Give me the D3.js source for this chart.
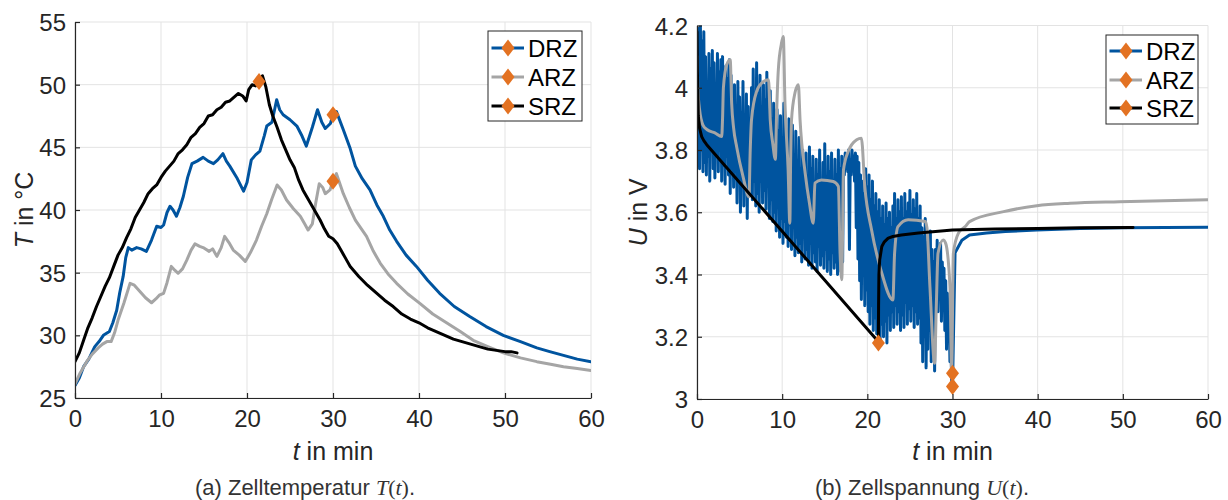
<!DOCTYPE html>
<html>
<head>
<meta charset="utf-8">
<script src="https://cdn.jsdelivr.net/npm/d3@7"></script>
<style>
  html, body { margin: 0; padding: 0; background: #fff; }
  svg { display: block; }
  text { font-family: "Liberation Sans", Arial, Helvetica, sans-serif; }
</style>
</head>
<body>
<svg id="fig" width="1228" height="500"></svg>
<script>
// ---- data -------------------------------------------------------------
const seriesNames = ["DRZ", "ARZ", "SRZ"];
const timeTicks = [0, 10, 20, 30, 40, 50, 60];
const tempTicks = [25, 30, 35, 40, 45, 50, 55];
const voltTicks = [3, 3.2, 3.4, 3.6, 3.8, 4, 4.2];

// cell temperature T(t) in °C over t in min
const tempDRZ = [
  [0,26.0],[0.5,26.6],[1.0,27.5],[1.6,28.1],[2.3,29.1],[2.8,29.5],[3.3,30.0],[4.0,30.3],
  [4.4,31.0],[4.85,32.0],[5.2,33.4],[5.6,34.7],[5.9,36.2],[6.2,37.0],[6.6,36.8],[7.17,37.0],
  [7.7,36.9],[8.3,36.7],[8.9,37.6],[9.5,38.7],[10.0,38.6],[10.3,38.8],[10.7,39.8],[11.05,40.3],
  [11.4,40.0],[11.8,39.5],[12.2,40.2],[12.6,41.1],[13.1,42.6],[13.6,43.7],[14.2,43.9],[14.9,44.2],
  [15.5,43.9],[16.1,43.7],[16.6,44.0],[17.2,44.5],[17.6,43.9],[18.0,43.5],[18.8,42.6],[19.6,41.5],
  [20.0,42.2],[20.5,44.0],[21.0,44.4],[21.5,44.7],[22.0,45.9],[22.3,46.7],[22.9,47.0],[23.45,48.8],
  [23.8,48.0],[24.2,47.6],[25.0,47.2],[25.8,46.7],[26.4,45.9],[26.9,45.1],[27.6,46.6],[28.2,48.0],
  [28.7,47.0],[29.1,46.5],[29.7,46.9],[30.0,47.6],[30.4,47.85],[31.2,46.4],[32.0,44.9],[32.6,43.5],
  [33.4,42.5],[34.3,41.6],[35.1,40.4],[35.85,39.5],[36.6,38.4],[37.4,37.5],[38.5,36.4],[39.7,35.5],
  [41.0,34.4],[42.4,33.35],[44.1,32.3],[45.9,31.5],[47.8,30.7],[49.8,30.0],[51.8,29.5],[53.7,29.0],
  [55.2,28.7],[56.8,28.4],[58.4,28.1],[60,27.9]
];
const tempARZ = [
  [0,26.1],[0.6,27.0],[1.36,27.9],[2.0,28.5],[2.7,29.0],[3.2,29.3],[3.7,29.5],[4.2,29.5],
  [4.6,30.2],[5.0,31.2],[5.7,32.6],[6.4,34.15],[6.9,34.0],[7.55,33.5],[8.2,33.0],[8.9,32.6],
  [9.4,32.9],[9.8,33.2],[10.3,33.35],[10.7,34.2],[11.2,35.5],[11.6,35.2],[12.0,34.95],[12.5,35.3],
  [13.0,36.0],[13.5,36.8],[13.95,37.3],[14.5,37.1],[14.9,37.0],[15.6,36.7],[16.0,36.9],[16.5,36.3],
  [17.0,37.0],[17.4,37.9],[17.9,37.4],[18.4,36.8],[19.1,36.4],[19.8,35.9],[20.4,36.6],[21.1,37.6],
  [21.7,38.7],[22.3,39.7],[22.9,40.9],[23.5,42.0],[24.0,41.6],[24.6,40.8],[25.4,40.1],[26.2,39.5],
  [26.7,38.9],[27.1,38.4],[27.6,38.9],[28.0,40.6],[28.4,42.1],[28.8,41.8],[29.1,41.3],[29.65,41.6],
  [30.0,42.3],[30.4,42.9],[31.2,41.3],[31.9,40.2],[32.6,39.2],[33.9,37.9],[34.7,36.7],[35.5,35.75],
  [36.4,34.9],[37.4,34.15],[38.7,33.3],[40.1,32.55],[41.6,31.7],[43.2,31.0],[44.8,30.3],[46.3,29.6],
  [48.0,29.1],[49.8,28.6],[51.8,28.2],[53.7,27.9],[55.3,27.7],[56.8,27.5],[58.4,27.35],[60,27.2]
];
const tempSRZ = [
  [0,27.9],[0.5,28.6],[1.0,29.6],[1.5,30.6],[2.0,31.4],[2.5,32.3],[3.0,33.1],[3.5,33.9],
  [4.0,34.6],[4.5,35.5],[5.0,36.4],[5.5,37.0],[6.0,37.8],[6.5,38.5],[7.0,39.4],[7.5,40.0],
  [8.0,40.6],[8.5,41.3],[9.0,41.7],[9.5,42.0],[10.0,42.6],[10.5,43.1],[11.0,43.5],[11.5,43.9],
  [12.0,44.5],[12.5,44.8],[13.0,45.2],[13.5,45.8],[14.0,46.1],[14.5,46.6],[15.0,46.9],[15.5,47.5],
  [16.0,47.6],[16.5,48.0],[17.0,48.2],[17.5,48.6],[18.0,48.7],[18.5,49.0],[19.0,49.3],[19.5,49.1],
  [19.9,48.7],[20.2,49.6],[20.6,50.0],[21.0,49.9],[21.4,50.25],[21.8,50.7],[22.2,49.8],[22.6,48.4],
  [23.0,47.5],[23.5,46.6],[24.0,45.6],[24.5,44.8],[25.0,44.0],[25.5,43.4],[26.0,42.4],[26.5,41.6],
  [27.0,41.0],[27.5,40.4],[28.0,39.8],[28.5,39.2],[29.0,38.5],[29.5,37.9],[30.0,37.7],[30.5,37.3],
  [31.0,36.7],[31.5,36.1],[32.0,35.5],[32.5,35.1],[33,34.7],[34,34.0],[35,33.4],[36,32.8],
  [37,32.3],[38,31.7],[39,31.3],[40,31.0],[41,30.6],[42,30.3],[43,30.0],[44,29.7],
  [45,29.5],[46,29.3],[47,29.1],[48,28.9],[49,28.8],[50,28.7],[50.7,28.7],[51.4,28.6]
];
// end-of-discharge markers (t, T)
const tempMarkers = [[30.0,47.6],[30.0,42.3],[21.4,50.25]];

// cell voltage U(t) in V over t in min
const voltDRZ = [
  [0.0,4.05],[0.1,3.78],[0.2,4.19],[0.3,3.74],[0.4,4.20],[0.5,3.80],[0.6,4.15],[0.7,3.73],[0.8,4.18],[0.9,3.76],
  [1.0,4.10],[1.1,3.72],[1.2,4.02],[1.3,3.78],[1.4,4.11],[1.5,3.70],[1.6,4.06],[1.7,3.82],[1.8,4.12],[1.9,3.74],
  [2.0,4.08],[2.1,3.71],[2.2,4.00],[2.3,3.79],[2.4,4.11],[2.5,3.73],[2.6,4.05],[2.7,3.84],[2.8,4.09],[2.9,3.70],
  [3.0,4.10],[3.1,3.75],[3.2,3.98],[3.3,3.69],[3.4,4.07],[3.5,3.78],[3.6,4.03],[3.7,3.72],[3.8,4.09],[3.9,3.66],
  [4.0,4.04],[4.1,3.74],[4.2,3.96],[4.3,3.68],[4.4,4.01],[4.5,3.78],[4.6,3.94],[4.7,3.63],[4.8,4.02],[4.9,3.70],
  [5.0,3.97],[5.1,3.60],[5.2,3.92],[5.3,3.70],[5.4,4.02],[5.5,3.62],[5.6,3.90],[5.7,3.68],[5.8,3.98],[5.9,3.58],
  [6.0,3.94],[6.1,3.66],[6.2,3.88],[6.3,3.72],[6.4,4.00],[6.5,3.64],[6.6,4.06],[6.7,3.70],[6.8,3.96],[6.9,3.62],
  [7.0,4.08],[7.1,3.66],[7.2,3.98],[7.3,3.60],[7.4,4.04],[7.5,3.70],[7.6,3.94],[7.7,3.63],[7.8,4.01],[7.9,3.67],
  [8.0,3.96],[8.1,3.61],[8.2,4.05],[8.3,3.69],[8.4,3.92],[8.5,3.58],[8.6,3.99],[8.7,3.64],[8.8,3.90],[8.9,3.57],
  [9.0,3.95],[9.1,3.60],[9.2,3.88],[9.3,3.54],[9.4,3.93],[9.5,3.62],[9.6,3.86],[9.7,3.52],[9.8,3.91],[9.9,3.58],
  [10.0,3.84],[10.1,3.50],[10.2,3.95],[10.3,3.57],[10.4,3.87],[10.5,3.52],[10.6,3.80],[10.7,3.49],[10.8,3.90],[10.9,3.56],
  [11.0,3.83],[11.1,3.48],[11.2,3.88],[11.3,3.55],[11.4,3.78],[11.5,3.46],[11.6,3.86],[11.7,3.52],[11.8,3.76],[11.9,3.47],
  [12.0,3.84],[12.1,3.50],[12.2,3.74],[12.3,3.44],[12.4,3.80],[12.5,3.53],[12.6,3.72],[12.7,3.45],[12.8,3.79],[12.9,3.48],
  [13.0,3.70],[13.1,3.43],[13.2,3.81],[13.3,3.50],[13.4,3.74],[13.5,3.42],[13.6,3.78],[13.7,3.47],[13.8,3.69],[13.9,3.44],
  [14.0,3.77],[14.1,3.41],[14.2,3.72],[14.3,3.49],[14.4,3.80],[14.5,3.43],[14.6,3.70],[14.7,3.46],[14.8,3.76],[14.9,3.42],
  [15.0,3.82],[15.1,3.48],[15.2,3.71],[15.3,3.41],[15.4,3.78],[15.5,3.45],[15.6,3.73],[15.7,3.40],[15.8,3.79],[15.9,3.47],
  [16.0,3.70],[16.1,3.42],[16.2,3.77],[16.3,3.44],[16.4,3.72],[16.5,3.40],[16.6,3.80],[16.7,3.46],[16.8,3.74],[16.9,3.41],
  [17.0,3.78],[17.1,3.44],[17.2,3.76],[17.3,3.72],[17.4,3.79],[17.5,3.74],[17.6,3.78],[17.7,3.73],[17.8,3.80],[17.9,3.48],
  [18.0,3.77],[18.1,3.72],[18.2,3.80],[18.3,3.74],[18.4,3.78],[18.5,3.70],[18.6,3.79],[18.7,3.55],[18.8,3.78],[18.9,3.45],
  [19.0,3.76],[19.1,3.38],[19.2,3.72],[19.3,3.32],[19.4,3.70],[19.5,3.40],[19.6,3.66],[19.7,3.30],[19.8,3.74],[19.9,3.35],
  [20.0,3.68],[20.1,3.28],[20.2,3.72],[20.3,3.24],[20.4,3.64],[20.5,3.30],[20.6,3.70],[20.7,3.22],[20.8,3.62],[20.9,3.26],
  [21.0,3.66],[21.1,3.21],[21.2,3.60],[21.3,3.26],[21.4,3.64],[21.5,3.19],[21.6,3.58],[21.7,3.24],[21.8,3.62],[21.9,3.20],
  [22.0,3.56],[22.1,3.25],[22.2,3.63],[22.3,3.18],[22.4,3.58],[22.5,3.27],[22.6,3.60],[22.7,3.22],[22.8,3.55],[22.9,3.28],
  [23.0,3.62],[23.1,3.23],[23.2,3.66],[23.3,3.30],[23.4,3.58],[23.5,3.24],[23.6,3.64],[23.7,3.28],[23.8,3.60],[23.9,3.22],
  [24.0,3.65],[24.1,3.27],[24.2,3.58],[24.3,3.23],[24.4,3.66],[24.5,3.31],[24.6,3.60],[24.7,3.24],[24.8,3.63],[24.9,3.29],
  [25.0,3.67],[25.1,3.25],[25.2,3.59],[25.3,3.30],[25.4,3.64],[25.5,3.23],[25.6,3.61],[25.7,3.28],[25.8,3.66],[25.9,3.24],
  [26.0,3.58],[26.1,3.26],[26.2,3.62],[26.3,3.18],[26.4,3.55],[26.5,3.12],[26.6,3.52],[26.7,3.20],[26.8,3.58],[26.9,3.10],
  [27.0,3.50],[27.1,3.16],[27.2,3.46],[27.3,3.22],[27.4,3.54],[27.5,3.12],[27.6,3.48],[27.7,3.26],[27.8,3.44],[27.9,3.09],
  [28.0,3.48],[28.1,3.30],[28.2,3.51],[28.3,3.28],[28.4,3.46],[28.5,3.34],[28.6,3.50],[28.7,3.25],[28.8,3.44],[28.9,3.30],
  [29.0,3.42],[29.1,3.22],[29.2,3.38],[29.3,3.16],[29.4,3.34],[29.5,3.20],[29.6,3.30],[29.7,3.12],[29.8,3.20],[29.9,3.06],
  [30.0,3.04],[30.3,3.47],[31.1,3.51],[32.0,3.527],[34.0,3.533],[36.2,3.538],[39.9,3.543],[45.0,3.548],
  [50.0,3.55],[55.0,3.551],[60.0,3.552]
];
const voltARZ = [
  [0,4.10],[0.1,4.0],[0.3,3.93],[0.7,3.88],[1.2,3.865],[2.1,3.855],[2.9,3.843],[3.0,3.90],
  [3.1,4.0],[3.5,4.075],[3.9,4.09],[4.07,3.95],[4.3,3.87],[4.66,3.81],[5.4,3.715],[6.1,3.65],
  [6.25,3.80],[6.4,3.897],[7.0,3.988],[7.8,4.02],[8.4,4.026],[8.6,3.897],[8.9,3.82],[9.2,3.77],
  [9.35,3.92],[9.55,4.058],[9.9,4.14],[10.13,4.165],[10.33,3.95],[10.7,3.736],[10.9,3.565],[11.0,3.78],
  [11.1,3.897],[11.5,3.983],[11.9,4.01],[12.1,3.897],[12.7,3.726],[13.2,3.63],[13.65,3.565],[13.85,3.694],
  [14.6,3.704],[16.0,3.699],[16.6,3.683],[16.8,3.468],[17.0,3.383],[17.2,3.736],[17.75,3.795],[18.75,3.833],
  [19.3,3.838],[19.7,3.683],[20.5,3.543],[21.7,3.404],[23.0,3.318],[23.2,3.468],[23.6,3.554],[24.8,3.576],
  [26.8,3.570],[27.0,3.55],[27.35,3.361],[27.9,3.115],[28.1,3.30],[28.3,3.468],[28.9,3.511],[29.2,3.50],
  [29.7,3.361],[29.9,3.093],[30.1,3.468],[30.7,3.533],[31.5,3.554],[32.0,3.570],[36.0,3.602],[39.9,3.621],
  [43.8,3.629],[49.6,3.634],[60.0,3.640]
];
const voltSRZ = [
  [0,4.18],[0.05,4.05],[0.1,3.98],[0.15,3.91],[0.3,3.87],[0.55,3.843],[0.8,3.83],[1.14,3.817],
  [21.3,3.184],[21.32,3.30],[21.36,3.40],[21.45,3.447],[21.7,3.49],[22.0,3.505],[22.45,3.517],[23.0,3.522],
  [24.0,3.527],[26.0,3.533],[28.0,3.538],[30.0,3.543],[35.0,3.546],[40.0,3.548],[45.0,3.55],[51.2,3.551]
];
// end-of-discharge markers (t, U)
const voltMarkers = [[30.0,3.04],[30.0,3.083],[21.3,3.18]];

// ---- styling ----------------------------------------------------------
const colors = { DRZ: "#00549F", ARZ: "#A5A5A5", SRZ: "#000000" };
const markerColor = "#E37222";
const axisColor = "#262626";
const gridColor = "#E3E3E3";
const lineW = 3;

const svg = d3.select("#fig");

function diamond(g, x, y) {
  const w = 6.5, h = 8.5;
  g.append("path")
    .attr("d", `M${x},${y - h}L${x + w},${y}L${x},${y + h}L${x - w},${y}Z`)
    .attr("fill", markerColor);
}

function panel(opts) {
  const { x, y, series, markers, yTicks, yFmt, clipId, curves, legendBox, yLabel, caption, labelX } = opts;
  const [x0, x1] = x.range();
  const [y0, y1] = y.range();
  const g = svg.append("g");

  // grid
  g.append("g").selectAll("line").data(timeTicks).join("line")
    .attr("x1", d => x(d)).attr("x2", d => x(d)).attr("y1", y0).attr("y2", y1)
    .attr("stroke", gridColor).attr("stroke-width", 1);
  g.append("g").selectAll("line").data(yTicks).join("line")
    .attr("y1", d => y(d)).attr("y2", d => y(d)).attr("x1", x0).attr("x2", x1)
    .attr("stroke", gridColor).attr("stroke-width", 1);

  // clip
  svg.append("defs").append("clipPath").attr("id", clipId)
    .append("rect").attr("x", x0).attr("y", y1).attr("width", x1 - x0).attr("height", y0 - y1);

  const plot = g.append("g").attr("clip-path", `url(#${clipId})`);
  seriesNames.forEach((name, i) => {
    const line = d3.line().x(d => x(d[0])).y(d => y(d[1])).curve(curves[i]);
    plot.append("path").datum(series[i]).attr("d", line)
      .attr("fill", "none").attr("stroke", colors[name]).attr("stroke-width", lineW)
      .attr("stroke-linejoin", "round").attr("stroke-linecap", "round");
  });
  const mg = g.append("g");
  markers.forEach(m => diamond(mg, x(m[0]), y(m[1])));

  // axes
  const ax = g.append("g").attr("transform", `translate(0,${y0})`)
    .call(d3.axisBottom(x).tickValues(timeTicks).tickSizeInner(-5).tickSizeOuter(0).tickPadding(12));
  const ay = g.append("g").attr("transform", `translate(${x0},0)`)
    .call(d3.axisLeft(y).tickValues(yTicks).tickFormat(yFmt).tickSizeInner(-5).tickSizeOuter(0).tickPadding(9));
  [ax, ay].forEach(a => {
    a.select(".domain").attr("stroke", axisColor).attr("stroke-width", 1.2);
    a.selectAll(".tick line").attr("stroke", axisColor).attr("stroke-width", 1.2);
    a.selectAll(".tick text").attr("fill", axisColor)
      .style("font-family", '"Liberation Sans", Arial, sans-serif').style("font-size", "24px");
  });
  ay.selectAll(".tick text").attr("dy", "0.36em");

  // x label
  const xl = g.append("text").attr("x", (x0 + x1) / 2).attr("y", 460)
    .attr("text-anchor", "middle").attr("fill", axisColor).style("font-size", "25px");
  xl.append("tspan").attr("font-style", "italic").text("t");
  xl.append("tspan").text(" in min");

  // y label
  const yl = g.append("text").attr("transform", `translate(${labelX},${(y0 + y1) / 2}) rotate(-90)`)
    .attr("text-anchor", "middle").attr("fill", axisColor).style("font-size", "25px");
  yl.append("tspan").attr("font-style", "italic").text(yLabel[0]);
  yl.append("tspan").text(yLabel[1]);

  // legend
  const [lx, ly, lw, lh, rows] = legendBox;
  const lg = g.append("g");
  lg.append("rect").attr("x", lx).attr("y", ly).attr("width", lw).attr("height", lh)
    .attr("fill", "#fff").attr("stroke", axisColor).attr("stroke-width", 1);
  seriesNames.forEach((name, i) => {
    const ry = rows[i];
    lg.append("line").attr("x1", lx + 3.5).attr("x2", lx + 36).attr("y1", ry).attr("y2", ry)
      .attr("stroke", colors[name]).attr("stroke-width", lineW);
    diamond(lg, lx + 20, ry);
    lg.append("text").attr("x", lx + 40).attr("y", ry).attr("dy", "0.36em")
      .attr("fill", "#000").style("font-size", "24px").text(name);
  });

  // caption
  const cp = svg.append("text").attr("x", caption.x).attr("y", 495)
    .attr("text-anchor", "middle").attr("fill", "#333").style("font-size", "22px");
  cp.append("tspan").text(caption.text);
  const mathFont = '"Liberation Serif", "DejaVu Serif", serif';
  cp.append("tspan").style("font-family", mathFont).attr("font-style", "italic").text(caption.sym);
  cp.append("tspan").style("font-family", mathFont).text("(");
  cp.append("tspan").style("font-family", mathFont).attr("font-style", "italic").text("t");
  cp.append("tspan").style("font-family", mathFont).text(")");
  cp.append("tspan").text(".");
}

const fmt = d => String(+d.toFixed(1));

panel({
  x: d3.scaleLinear().domain([0, 60]).range([75, 591]),
  y: d3.scaleLinear().domain([25, 55]).range([398, 22]),
  series: [tempDRZ, tempARZ, tempSRZ],
  markers: tempMarkers,
  yTicks: tempTicks,
  yFmt: fmt,
  clipId: "clipT",
  curves: [d3.curveLinear, d3.curveLinear, d3.curveLinear],
  legendBox: [488, 31, 94, 90, [48, 77, 106]],
  yLabel: ["T", " in °C"],
  labelX: 33,
  caption: { x: 305, text: "(a) Zelltemperatur ", sym: "T" }
});

panel({
  x: d3.scaleLinear().domain([0, 60]).range([697, 1208]),
  y: d3.scaleLinear().domain([3, 4.2]).range([399, 25.5]),
  series: [voltDRZ, voltARZ, voltSRZ],
  markers: voltMarkers,
  yTicks: voltTicks,
  yFmt: fmt,
  clipId: "clipU",
  curves: [d3.curveLinear, d3.curveMonotoneX, d3.curveLinear],
  legendBox: [1106, 35, 92, 89, [51, 80, 108]],
  yLabel: ["U", " in V"],
  labelX: 647,
  caption: { x: 922, text: "(b) Zellspannung ", sym: "U" }
});
</script>
</body>
</html>
